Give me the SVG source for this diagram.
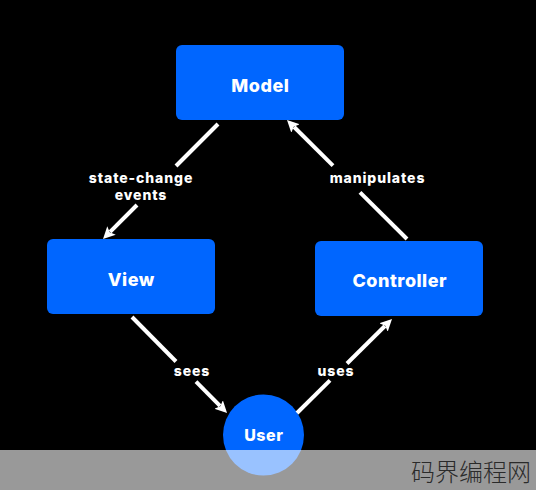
<svg xmlns="http://www.w3.org/2000/svg" width="536" height="490" viewBox="0 0 536 490">
  <style>
    .box { fill: #0066ff; }
    .nlabel { font-family: Inter, "Liberation Sans", sans-serif; font-weight: 800; font-size: 18px; letter-spacing: 0.5px; fill: #ffffff; text-anchor: middle; }
    .elabel { font-family: Inter, "Liberation Sans", sans-serif; font-weight: 800; font-size: 14px; letter-spacing: 0.9px; fill: #ffffff; text-anchor: middle; }
    .edge { stroke: #ffffff; stroke-width: 4; fill: none; stroke-linecap: butt; }
    .wm { font-family: "Noto Sans CJK SC", sans-serif; font-weight: 300; font-size: 24px; fill: #2a2a2a; }
  </style>
  <defs>
    <marker id="arrow" markerUnits="userSpaceOnUse" viewBox="0 0 14 14" markerWidth="14" markerHeight="14" refX="2" refY="7" orient="auto">
      <path d="M0,1 L12,7 L0,13 L2.5,7 Z" fill="#ffffff"/>
    </marker>
  </defs>
  <rect x="0" y="0" width="536" height="490" fill="#000000"/>

  <g id="model">
    <rect class="box" x="176" y="45" width="168" height="75" rx="6"/>
    <text class="nlabel" x="260.3" y="92">Model</text>
  </g>
  <g id="view">
    <rect class="box" x="47" y="239" width="168" height="75" rx="6"/>
    <text class="nlabel" x="131.3" y="286">View</text>
  </g>
  <g id="controller">
    <rect class="box" x="315" y="241" width="168" height="75" rx="6"/>
    <text class="nlabel" x="399.8" y="287">Controller</text>
  </g>
  <g id="user">
    <circle class="box" cx="263.5" cy="435" r="40.5"/>
    <text class="nlabel" x="263.8" y="441" style="font-size:16px">User</text>
  </g>

  <g id="connectors">
    <line class="edge" x1="218" y1="124" x2="176" y2="166"/>
    <line class="edge" x1="137" y1="205" x2="110.1" y2="231.9" marker-end="url(#arrow)"/>
    <text class="elabel" x="141" y="183">state-change</text>
    <text class="elabel" x="141" y="200">events</text>

    <line class="edge" x1="407" y1="239" x2="360" y2="192.4"/>
    <line class="edge" x1="333" y1="165.6" x2="294.1" y2="127" marker-end="url(#arrow)"/>
    <text class="elabel" x="377.5" y="183">manipulates</text>

    <line class="edge" x1="132" y1="317" x2="176" y2="361.5"/>
    <line class="edge" x1="196" y1="381.7" x2="220" y2="405.9" marker-end="url(#arrow)"/>
    <text class="elabel" x="192" y="376">sees</text>

    <line class="edge" x1="297" y1="413" x2="330" y2="380.3"/>
    <line class="edge" x1="347" y1="363.5" x2="384.9" y2="326" marker-end="url(#arrow)"/>
    <text class="elabel" x="336" y="376">uses</text>
  </g>

  <rect x="0" y="450" width="536" height="40" fill="#ffffff" fill-opacity="0.6"/>
  <text class="wm" x="411" y="481">码界编程网</text>
</svg>
